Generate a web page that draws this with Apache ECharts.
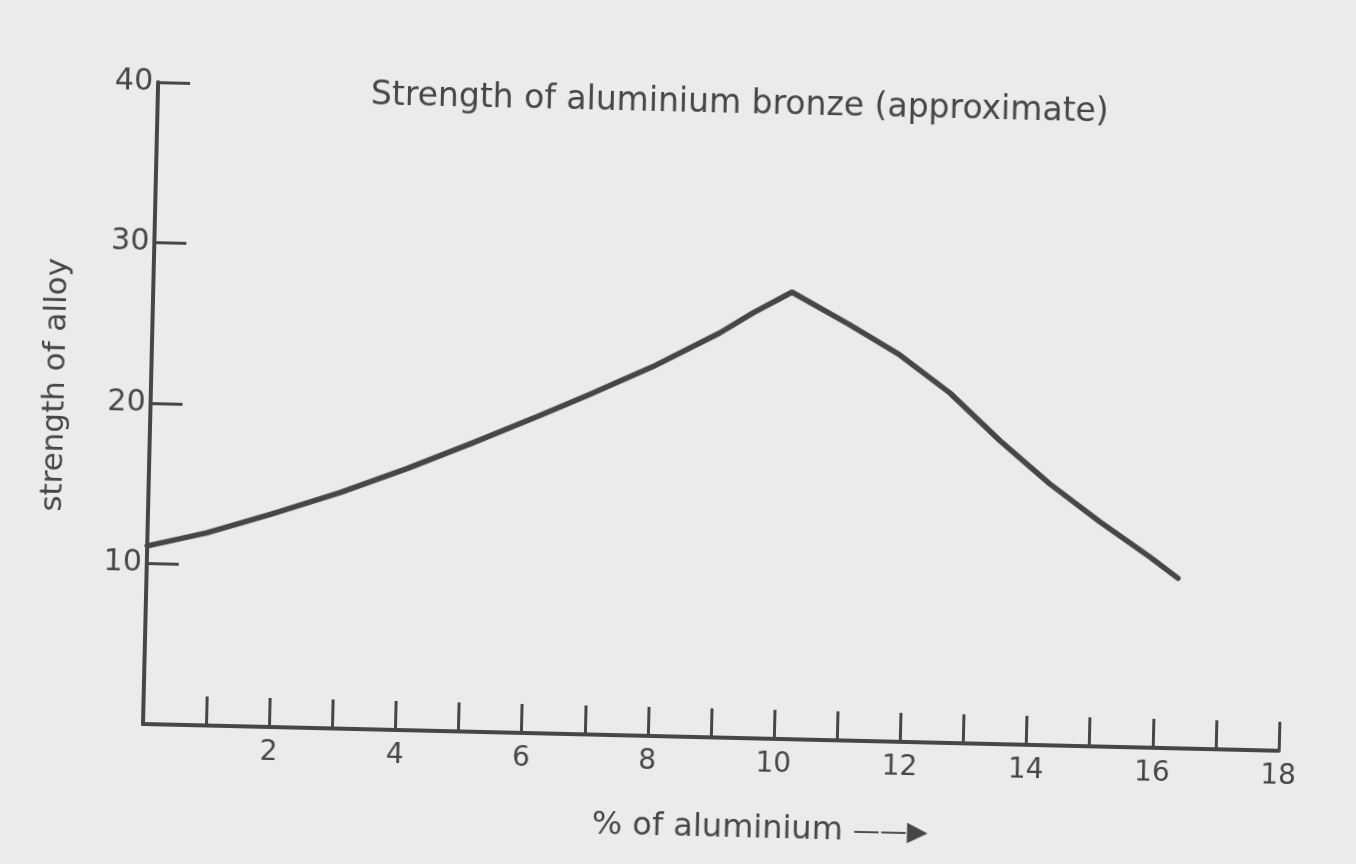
<!DOCTYPE html>
<html>
<head>
<meta charset="utf-8">
<script src="https://cdn.jsdelivr.net/npm/echarts@6/dist/echarts.min.js"></script>
<style>
  html, body { margin: 0; padding: 0; background: #ebebeb; overflow: hidden; }
  #chart { position: absolute; left: 0; top: 0; width: 1356px; height: 864px;
           transform: rotate(1.35deg); transform-origin: 143px 724px; }
</style>
</head>
<body>
<div id="chart"></div>
<script>
const titleText = 'Strength of aluminium bronze (approximate)';
const xAxisName = '% of aluminium';
const yAxisName = 'strength of alloy';
const aluminiumPct = [0, 0.94, 1.98, 3.03, 4.09, 5.12, 6.17, 6.91, 7.94, 8.99, 9.51, 10.12, 11.05, 11.85, 12.66, 13.47, 14.27, 15.08, 15.88, 16.34];
const strength     = [11.1, 12.0, 13.3, 14.7, 16.3, 18.0, 19.8, 21.1, 23.0, 25.2, 26.5, 27.85, 25.9, 24.1, 21.8, 18.9, 16.3, 14.0, 11.9, 10.6];
const xTickLabels = [2, 4, 6, 8, 10, 12, 14, 16, 18];
const yTickLabels = [10, 20, 30, 40];

const ink = '#464646';
const font = 'DejaVu Sans';

const chart = echarts.init(document.getElementById('chart'), null, { renderer: 'canvas' });
chart.setOption({
  backgroundColor: 'transparent',
  animation: false,
  title: {
    text: titleText,
    left: 720,
    top: 69,
    textAlign: 'center',
    textStyle: { color: ink, fontFamily: font, fontSize: 33, fontWeight: 'normal' }
  },
  grid: { left: 143, top: 82, right: 77, bottom: 140, containLabel: false, outerBoundsMode: 'none' },
  xAxis: {
    type: 'value', min: 0, max: 18, interval: 1,
    name: xAxisName + ' {a|——▶}',
    nameLocation: 'middle', nameGap: 75,
    nameTextStyle: {
      color: ink, fontFamily: font, fontSize: 32, padding: [0, 0, 0, 102],
      rich: { a: { color: ink, fontSize: 27, fontFamily: font } }
    },
    axisLine: { show: true, onZero: false, lineStyle: { color: ink, width: 4 } },
    axisTick: { show: true, inside: true, length: 29, lineStyle: { color: ink, width: 3 } },
    axisLabel: {
      color: ink, fontFamily: font, fontSize: 28, margin: 12,
      formatter: v => xTickLabels.includes(v) ? String(v) : ''
    },
    splitLine: { show: false }
  },
  yAxis: {
    type: 'value', min: 0, max: 40, interval: 10,
    name: yAxisName,
    nameLocation: 'middle', nameGap: 80, nameRotate: 90,
    nameTextStyle: { color: ink, fontFamily: font, fontSize: 31, padding: [0, 0, 0, 32] },
    axisLine: { show: true, onZero: false, lineStyle: { color: ink, width: 4 } },
    axisTick: { show: true, inside: true, length: 32, lineStyle: { color: ink, width: 3 } },
    axisLabel: {
      color: ink, fontFamily: font, fontSize: 30, margin: 5,
      formatter: v => yTickLabels.includes(v) ? String(v) : ''
    },
    splitLine: { show: false }
  },
  series: [{
    type: 'line',
    data: aluminiumPct.map((x, i) => [x, strength[i]]),
    showSymbol: false,
    smooth: false,
    lineStyle: { color: ink, width: 5.5, cap: 'round', join: 'round' }
  }]
});
</script>
</body>
</html>
